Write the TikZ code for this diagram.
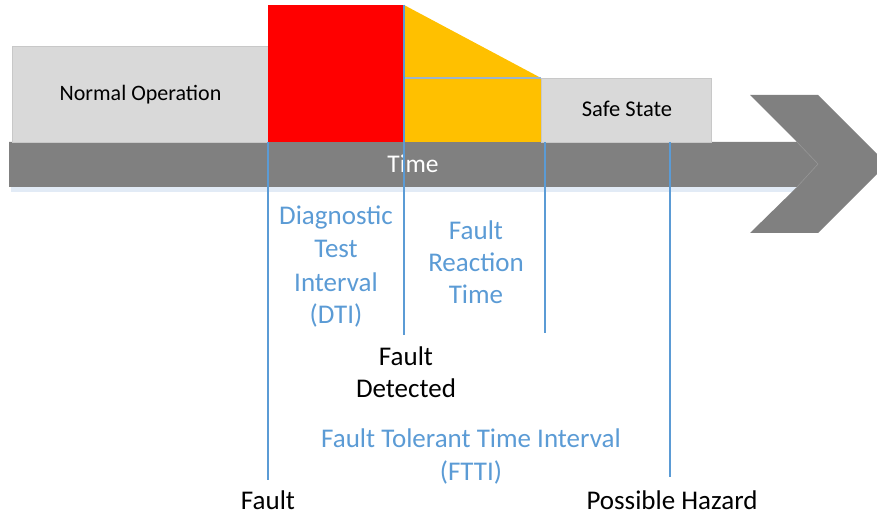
\documentclass[tikz,border=0pt]{standalone}
\usepackage{fontspec}
\setmainfont{Carlito}
\definecolor{boxgrey}{RGB}{217,217,217}
\definecolor{boxedge}{RGB}{200,200,200}
\definecolor{arrowgrey}{RGB}{128,128,128}
\definecolor{seam}{RGB}{150,150,150}
\definecolor{faultred}{RGB}{255,0,0}
\definecolor{reactorange}{RGB}{255,192,0}
\definecolor{lineblue}{RGB}{91,155,213}
\definecolor{sepblue}{RGB}{157,180,204}
\definecolor{shadowblue}{RGB}{226,235,246}
\begin{document}
\begin{tikzpicture}[x=1pt,y=-1pt,
  greybox/.style={draw=boxedge, fill=boxgrey, line width=0.8pt},
  vline/.style={draw=lineblue, line width=1.6pt},
  bluetxt/.style={text=lineblue, font=\fontsize{27}{32.5}\selectfont, anchor=base, inner sep=0pt},
  blacktxt/.style={text=black, font=\fontsize{27}{32}\selectfont, anchor=base, inner sep=0pt},
  boxtxt/.style={text=black, anchor=base, inner sep=0pt}]
\useasboundingbox (0,0) rectangle (877,518);
\clip (0,0) rectangle (877,518);
% shadow of the time arrow
\fill[shadowblue] (11,187) rectangle (800,192);
% time arrow
\fill[arrowgrey] (9,142) -- (797,142) -- (750,95) -- (818,95) -- (887,164)
  -- (818,233) -- (750,233) -- (797,187) -- (9,187) -- cycle;
\draw[seam, line width=0.6pt] (797,142) -- (818,164) -- (797,187);
\node[text=white, font=\fontsize{25.5}{30}\selectfont, anchor=base, inner sep=0pt] (time) at (413,173) {Time};
% state boxes
\path[greybox] (12,46) rectangle (268,142);
\node[boxtxt, font=\fontsize{22}{26}\selectfont] (normal) at (140.5,101) {Normal Operation};
\fill[faultred] (268,5) rectangle (404,142);
\fill[reactorange] (404,5) -- (541,78) -- (541,142) -- (404,142) -- cycle;
\draw[sepblue, line width=1.4pt] (404,78) -- (541,78);
\path[greybox] (541,78) rectangle (711,142);
\node[boxtxt, font=\fontsize{22.5}{26}\selectfont] (safe) at (627,117) {Safe State};
% time markers
\coordinate (f1) at (268,142);  \coordinate (f2) at (268,480);
\coordinate (d1) at (404,5);    \coordinate (d2) at (404,335);
\coordinate (r1) at (545,142);  \coordinate (r2) at (545,333);
\coordinate (h1) at (670,142);  \coordinate (h2) at (670,477);
\draw[vline] (f1) -- (f2);
\draw[vline] (d1) -- (d2);
\draw[vline] (r1) -- (r2);
\draw[vline] (h1) -- (h2);
% interval labels
\node[bluetxt] (dti1) at (336,225) {Diagnostic};
\node[bluetxt] (dti2) at (336,258) {Test};
\node[bluetxt] (dti3) at (336,291) {Interval};
\node[bluetxt] (dti4) at (336,323.5) {(DTI)};
\node[bluetxt] (frt1) at (476,239.5) {Fault};
\node[bluetxt] (frt2) at (476,272) {Reaction};
\node[bluetxt] (frt3) at (476,304) {Time};
\node[blacktxt] (det1) at (406,365) {Fault};
\node[blacktxt] (det2) at (406,397) {Detected};
\node[bluetxt] (ftti1) at (471,447.5) {Fault Tolerant Time Interval};
\node[bluetxt] (ftti2) at (471,480.5) {(FTTI)};
\node[blacktxt] (fault) at (268,509.5) {Fault};
\node[blacktxt] (hazard) at (672,509.5) {Possible Hazard};
\end{tikzpicture}
\end{document}
